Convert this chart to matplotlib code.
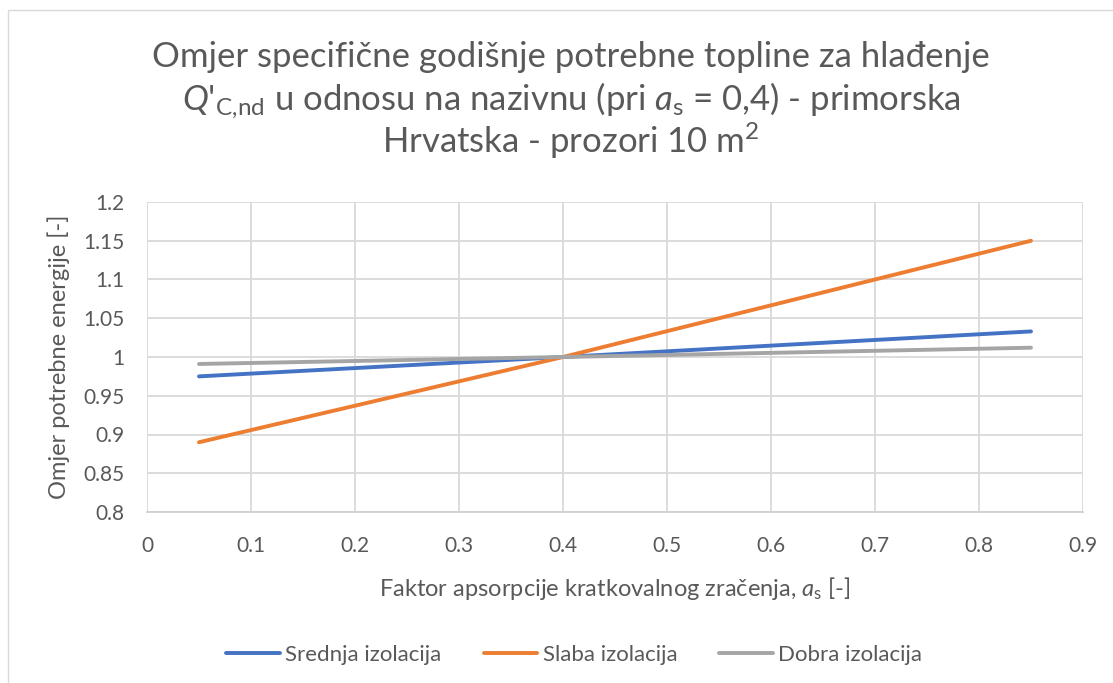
import matplotlib.pyplot as plt
import matplotlib
from matplotlib.patches import Rectangle

matplotlib.rcParams['font.family'] = ['Lato', 'DejaVu Sans']
matplotlib.rcParams['mathtext.fontset'] = 'custom'
matplotlib.rcParams['mathtext.rm'] = 'Lato'
matplotlib.rcParams['mathtext.it'] = 'Lato:italic'

# faktor apsorpcije a_s
x = [0.05, 0.4, 0.85]
srednja = [0.975, 1.0, 1.033]
slaba = [0.89, 1.0, 1.15]
dobra = [0.991, 1.0, 1.012]

xticks = [0, 0.1, 0.2, 0.3, 0.4, 0.5, 0.6, 0.7, 0.8, 0.9]
yticks = [0.8, 0.85, 0.9, 0.95, 1, 1.05, 1.1, 1.15, 1.2]

W, H = 1113, 683
txt = '#595959'
fig = plt.figure(figsize=(W / 100, H / 100), dpi=100)
fig.patches.append(Rectangle((8 / W, -0.1), 1.2, 1 - 10 / H + 0.1,
                             transform=fig.transFigure, fill=False,
                             edgecolor='#d9d9d9', linewidth=1))
ax = fig.add_axes([147 / W, 1 - 512 / H, 936 / W, 310 / H])

ax.plot(x, srednja, color='#4472c4', lw=2.8, label='Srednja izolacija', solid_capstyle='round')
ax.plot(x, slaba, color='#ed7d31', lw=2.8, label='Slaba izolacija', solid_capstyle='round')
ax.plot(x, dobra, color='#a5a5a5', lw=2.8, label='Dobra izolacija', solid_capstyle='round')

ax.set_xlim(0, 0.9)
ax.set_ylim(0.8, 1.2)
ax.set_xticks(xticks)
ax.set_xticklabels([f'{v:g}' for v in xticks])
ax.set_yticks(yticks)
ax.set_yticklabels([f'{v:g}' for v in yticks])
ax.grid(True, color='#d9d9d9', lw=1.3)
ax.set_axisbelow(True)
for s in ['top', 'right', 'left']:
    ax.spines[s].set_visible(False)
ax.spines['bottom'].set_color('#d0d0d0')
ax.spines['bottom'].set_linewidth(1.3)
ax.tick_params(length=0, labelsize=15, colors=txt)
ax.tick_params(axis='x', pad=17)
ax.tick_params(axis='y', pad=16)

ax.set_xlabel('Faktor apsorpcije kratkovalnog zračenja, $\\mathit{a}_{\\mathrm{s}}$ [-]',
              fontsize=17, color=txt, labelpad=14)
ax.set_ylabel('Omjer potrebne energije [-]', fontsize=17, color=txt, labelpad=10)

# naslov u tri retka
naslov = ['Omjer specifične godišnje potrebne topline za hlađenje',
          "$\\mathit{Q}$'$_{\\mathrm{C{,}nd}}$ u odnosu na nazivnu (pri $\\mathit{a}_{\\mathrm{s}}$ = 0,4) - primorska",
          'Hrvatska - prozori 10 m$^{2}$']
for red, yb in zip(naslov, [67, 110, 153]):
    fig.text(0.513, 1 - yb / H, red, ha='center', va='baseline', fontsize=25, color=txt)

fig.legend(loc='center', bbox_to_anchor=(0.516, 1 - 655 / H), ncol=3, frameon=False,
           fontsize=16, labelcolor=txt, handlelength=2.4, handletextpad=0.25,
           columnspacing=1.9)

plt.savefig('out.png', dpi=100)
